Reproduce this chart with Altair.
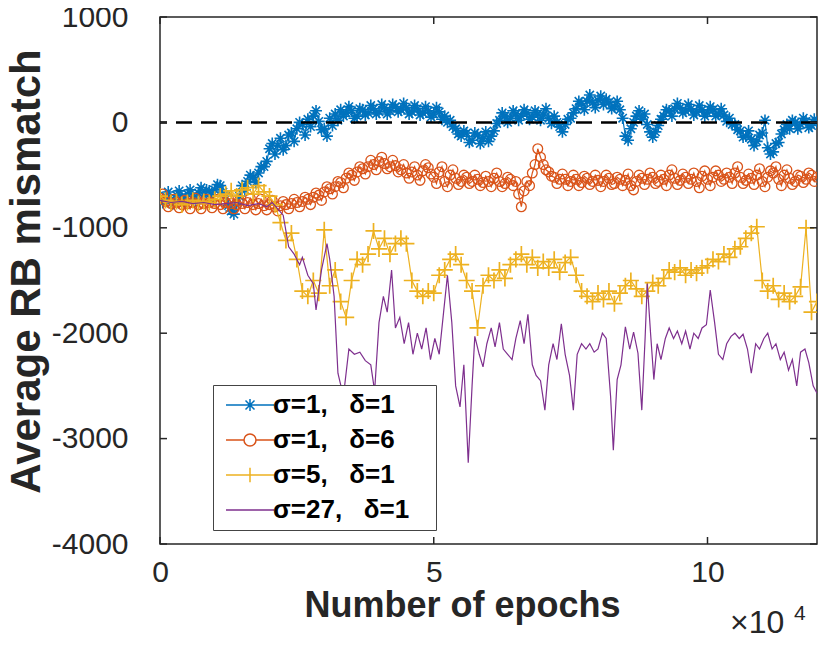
import altair as alt
import pandas as pd

# ---------------- data ----------------
epochs = list(range(0, 120500, 500))

blue = [
    -720, -760, -700, -660, -730, -770, -690, -650, -710, -750,
    -680, -640, -700, -740, -670, -620, -690, -640, -650, -700,
    -640, -590, -600, -660, -700, -790, -840, -870, -780, -700,
    -600, -640, -560, -500, -520, -570, -480, -420, -420, -370,
    -250, -200, -300, -220, -150, -260, -220, -120, -100, -180,
    -60, 0, -20, -120, 30, -40, 60, 110, 10, -70,
    -60, -130, 40, -30, 80, 20, 120, 60, 90, 150,
    110, 40, 60, 130, 120, 70, 90, 160, 130, 80,
    100, 170, 140, 80, 110, 170, 150, 100, 120, 180,
    140, 80, 100, 160, 130, 70, 90, 150, 110, 50,
    80, 140, 100, 30, 60, 0, 20, -40, -60, -110,
    -130, -80, -100, -190, -170, -100, -120, -200, -150, -90,
    -180, -130, -80, -10, 20, 90, 60, 0, 40, 110,
    80, 20, 60, 120, 90, 30, 50, 110, 80, 20,
    70, 130, 40, -10, 60, 0, -40, -90, -20, 30,
    40, 90, 130, 200, 180, 120, 200, 260, 190, 140,
    210, 250, 170, 220, 190, 130, 150, 200, 120, 40,
    -130, -170, -60, 0, 60, 110, 30, 80, -20, -90,
    -140, -90, -30, 30, 60, 120, 110, 60, 130, 180,
    140, 90, 110, 170, 130, 70, 100, 160, 120, 60,
    90, 150, 120, 60, 80, 130, 70, 10, 40, -20,
    -20, -70, -80, -140, -130, -80, -160, -220, -180, -120,
    -100, 20, -240, -300, -280, -200, -190, -110, -70, -20,
    -60, 20, 0, -60, -20, 40, 10, -50, -30, 30,
    0,
]

orange = [
    -720, -680, -750, -800, -770, -730, -760, -810, -780, -740,
    -770, -820, -760, -720, -780, -820, -770, -730, -760, -810,
    -770, -730, -780, -820, -760, -720, -770, -820, -780, -740,
    -770, -820, -760, -720, -780, -830, -770, -730, -790, -830,
    -780, -740, -800, -840, -790, -750, -780, -820, -770, -730,
    -760, -800, -750, -710, -730, -780, -710, -670, -690, -740,
    -660, -610, -630, -680, -610, -560, -570, -620, -530, -480,
    -500, -550, -470, -420, -440, -490, -420, -360, -400, -450,
    -370, -330, -390, -440, -420, -360, -410, -470, -450, -400,
    -480, -530, -470, -420, -500, -550, -460, -400, -430, -490,
    -520, -580, -470, -420, -560, -610, -500, -450, -530, -590,
    -560, -500, -520, -580, -560, -500, -540, -600, -570, -510,
    -560, -610, -530, -480, -560, -610, -580, -520, -540, -600,
    -560, -680, -800, -650, -560, -600, -480, -400, -250, -330,
    -400, -450, -470, -510, -520, -580, -540, -490, -540, -600,
    -560, -500, -540, -600, -570, -510, -530, -590, -560, -500,
    -550, -610, -560, -500, -530, -590, -580, -520, -540, -600,
    -550, -490, -600, -640, -560, -500, -530, -590, -540, -480,
    -520, -580, -560, -500, -540, -600, -500, -450, -530, -590,
    -550, -490, -520, -580, -540, -480, -560, -620, -510, -460,
    -540, -600, -520, -460, -500, -560, -540, -480, -520, -580,
    -480, -420, -520, -580, -550, -490, -530, -590, -500, -440,
    -560, -610, -520, -460, -480, -420, -540, -600, -500, -450,
    -530, -590, -560, -500, -510, -570, -540, -480, -500, -560,
    -520,
]

yellow_epochs = list(range(0, 121000, 1000))
yellow = [
    -700, -740, -760, -750, -780, -760, -740, -770, -750, -760,
    -730, -700, -680, -650, -700, -640, -620, -680, -600, -660,
    -700, -780, -950, -1120, -1050, -1300, -1600, -1650, -1500, -1620,
    -1020, -1550, -1400, -1700, -1850, -1500, -1300, -1350, -1250, -1030,
    -1200, -1100, -1250, -1150, -1100, -1150, -1500, -1600, -1650, -1600,
    -1620, -1450, -1400, -1300, -1250, -1350, -1500, -1600, -1950, -1550,
    -1450, -1500, -1400, -1480, -1350, -1300, -1250, -1350, -1280, -1380,
    -1320, -1380, -1300, -1420, -1330, -1280, -1450, -1600, -1650, -1700,
    -1620, -1680, -1600, -1720, -1620, -1550, -1500, -1580, -1650, -1600,
    -1520, -1550, -1480, -1400, -1420, -1380, -1450, -1400, -1430, -1380,
    -1360, -1300, -1320, -1250, -1280, -1200, -1180, -1100, -1050, -990,
    -1500, -1600, -1550, -1680, -1620, -1700, -1650, -1560, -1000, -1800,
    -1700,
]

purple_epochs = [
    0, 2000, 4000, 6000, 8000, 10000, 12000, 14000, 16000, 18000,
    19500, 20500, 21500, 22500, 23500, 24500, 25500, 26000, 27000, 28000,
    28500, 29500, 30500, 31000, 31800, 32500, 33500, 34500, 35500, 36500,
    37500, 38500, 39200, 40000, 40800, 41500, 42300, 43000, 43800, 44600,
    45400, 46200, 47000, 47800, 48600, 49400, 50200, 51000, 51800, 52500,
    53300, 54000, 54800, 55500, 56300, 57000, 57500, 58300, 59000, 59700,
    60500, 61200, 62000, 62700, 63500, 64300, 65000, 65800, 66500, 67200,
    68000, 68700, 69500, 70300, 71000, 71800, 72500, 73300, 74000, 74800,
    75500, 76200, 77000, 77800, 78500, 79300, 80000, 80800, 81500, 82300,
    82800, 83500, 84200, 85000, 85800, 86500, 87300, 88000, 88600, 89000,
    89600, 90200, 90800, 91500, 92300, 93000, 93800, 94500, 95300, 96000,
    96800, 97500, 98300, 99000, 99800, 100500, 101300, 102000, 102800, 103500,
    104300, 105000, 105800, 106500, 107300, 108000, 108800, 109500, 110300, 111000,
    111800, 112500, 113300, 114000, 114800, 115500, 116300, 117000, 117800, 118500,
    119300, 120000,
]

purple = [
    -740, -760, -750, -770, -760, -780, -770, -760, -790, -770,
    -800, -760, -820, -880, -1180, -1250, -1350, -1280, -1450, -1530,
    -1780, -1400, -1150, -1300, -1650, -2380, -2600, -2150, -2200, -2180,
    -2260, -2300, -2550, -1900, -1650, -1800, -1400, -1950, -1850, -2100,
    -1900, -2200, -2000, -2150, -1950, -2250, -2050, -2200, -1800, -1450,
    -1900, -2500, -2700, -2300, -3230, -2500, -2030, -2200, -2320, -2100,
    -1950, -2130, -1900, -2150, -2200, -2250, -2050, -1880, -2100, -1820,
    -2300, -2400, -2450, -2730, -2300, -2100, -2250, -1910, -2200, -2400,
    -2730, -2200, -2100, -2150, -2100, -2180, -2150, -2000, -2050, -2600,
    -3110, -2440, -2300, -1940, -2150, -1990, -2190, -2730, -2050, -1530,
    -2000, -2440, -2100, -2250, -2050, -1950, -2050, -1980, -2100, -1980,
    -2150, -2000, -2050, -1950, -1920, -1590, -1900, -2200, -2250, -2100,
    -2030, -2000, -2050, -2010, -2150, -2380, -2100, -2150, -2050, -2000,
    -2150, -2100, -2250, -2180, -2350, -2250, -2500, -2180, -2150, -2280,
    -2500, -2570,
]

series_labels = [
    "\u03c3=1,\u00a0\u00a0\u00a0\u03b4=1",
    "\u03c3=1,\u00a0\u00a0\u00a0\u03b4=6",
    "\u03c3=5,\u00a0\u00a0\u00a0\u03b4=1",
    "\u03c3=27,\u00a0\u00a0\u00a0\u03b4=1\u2800",
]
series_keys = ["s1", "s2", "s3", "s4"]
colors = ["#0072BD", "#D95319", "#EDB120", "#7E2F8E"]

y_ticks = [-4000, -3000, -2000, -1000, 0, 1000]
x_ticks = [0, 50000, 100000]
exp_text = ["\u00d710", "4"]

assert len(blue) == len(epochs) == len(orange)
assert len(yellow) == len(yellow_epochs)
assert len(purple) == len(purple_epochs)

rows = []
for key, xs_, vals in (("s1", epochs, blue), ("s2", epochs, orange),
                       ("s3", yellow_epochs, yellow), ("s4", purple_epochs, purple)):
    rows += [{"epoch": e, "value": v, "key": key} for e, v in zip(xs_, vals)]
df = pd.DataFrame(rows)

# ---------------- styling ----------------
W, H = 657, 527
AX = "#262626"
FONT = "Liberation Sans"

xs = alt.Scale(domain=[0, 120000], nice=False, zero=False)
ys = alt.Scale(domain=[-4000, 1000], nice=False, zero=False)

x_axis = alt.Axis(
    values=x_ticks, labelExpr="'' + datum.value / 10000",
    ticks=False, tickSize=0, domain=False, grid=False, labelFlush=False,
    labelFont=FONT, labelFontSize=30, labelColor=AX, labelPadding=13,
    title="Number of epochs", titleFont=FONT, titleFontSize=36,
    titleFontWeight="bold", titleColor=AX, titleX=302, titleY=72,
    titleBaseline="alphabetic", titleAlign="center",
)
y_axis = alt.Axis(
    values=y_ticks, labelExpr="'' + datum.value",
    ticks=False, tickSize=0, domain=False, grid=False,
    labelFont=FONT, labelFontSize=30, labelColor=AX, labelPadding=32,
    title="Average RB mismatch", titleFont=FONT, titleFontSize=42,
    titleFontWeight="bold", titleColor=AX, titleX=-121, titleY=254,
    titleBaseline="alphabetic", titleAlign="center",
)
X = alt.X("epoch:Q", scale=xs, axis=x_axis)
Y = alt.Y("value:Q", scale=ys, axis=y_axis)

asterisk = "M-1,0H1M0,-1V1M-0.7,-0.7L0.7,0.7M-0.7,0.7L0.7,-0.7"
plus = "M-1,0H1M0,-1V1"
marker_shapes = [asterisk, "circle", plus, None]
marker_sizes = [140, 95, 260, 0]
marker_widths = [1.6, 1.3, 1.7, 0]

layers = []
for key, color, shp, sz, sw in zip(series_keys, colors, marker_shapes, marker_sizes, marker_widths):
    sub = alt.Chart(df).transform_filter(alt.datum.key == key)
    layers.append(
        sub.mark_line(color=color, strokeWidth=1.2, clip=True).encode(x=X, y=Y)
    )
    if shp is not None:
        layers.append(
            sub.mark_point(shape=shp, filled=False, color=color, size=sz,
                           strokeWidth=sw, opacity=1, clip=True)
            .encode(x=X, y=Y)
        )

zero = alt.Chart(pd.DataFrame({"value": [0]})).mark_rule(
    color="black", strokeWidth=2.5, strokeDash=[16, 9]
).encode(y=Y)

ydf = pd.DataFrame({"value": y_ticks})
xdf = pd.DataFrame({"epoch": x_ticks})
tick_left = alt.Chart(ydf).mark_rule(color=AX, strokeWidth=1.5).encode(
    y=Y, x=alt.value(0), x2=alt.value(7))
tick_right = alt.Chart(ydf).mark_rule(color=AX, strokeWidth=1.5).encode(
    y=Y, x=alt.value(W - 7), x2=alt.value(W))
tick_bottom = alt.Chart(xdf).mark_rule(color=AX, strokeWidth=1.5).encode(
    x=X, y=alt.value(H - 7), y2=alt.value(H))
tick_top = alt.Chart(xdf).mark_rule(color=AX, strokeWidth=1.5).encode(
    x=X, y=alt.value(0), y2=alt.value(7))

exp_main = alt.Chart(pd.DataFrame({"t": [exp_text[0]]})).mark_text(
    font=FONT, fontSize=32, color=AX, align="left", baseline="alphabetic"
).encode(text="t:N", x=alt.value(570), y=alt.value(616))
exp_sup = alt.Chart(pd.DataFrame({"t": [exp_text[1]]})).mark_text(
    font=FONT, fontSize=21, color=AX, align="left", baseline="alphabetic"
).encode(text="t:N", x=alt.value(634), y=alt.value(603))

legend_shapes = [
    "M-4,0H4M0,-1V1M-0.75,-0.75L0.75,0.75M-0.75,0.75L0.75,-0.75",
    "M-4,0H-1M1,0H4M1,0A1,1,0,1,1,-1,0A1,1,0,1,1,1,0",
    "M-4,0H4M0,-1.2V1.2",
    "M-4,0H4",
]
leg = alt.Legend(
    orient="none", legendX=53, legendY=368, title=None,
    fillColor="white", strokeColor="#444444", padding=7,
    symbolOffset=17, labelOffset=10, rowPadding=9,
    labelFont=FONT, labelFontSize=26, labelFontWeight="bold",
    labelColor="black", labelLimit=400,
    symbolSize=144, symbolStrokeWidth=1.5,
)
legend_layer = alt.Chart(pd.DataFrame({"series": series_labels})).transform_filter(
    "false"
).mark_point(filled=False, opacity=1, strokeWidth=1.5).encode(
    color=alt.Color("series:N", scale=alt.Scale(domain=series_labels, range=colors), legend=leg),
    shape=alt.Shape("series:N", scale=alt.Scale(domain=series_labels, range=legend_shapes), legend=leg),
)

chart = alt.layer(
    *layers, zero, tick_left, tick_right, tick_bottom, tick_top,
    exp_main, exp_sup, legend_layer,
).properties(
    width=W, height=H,
    padding={"left": 152, "top": 9, "right": 5, "bottom": 92},
    autosize=alt.AutoSizeParams(type="none"),
    background="white",
).configure_view(stroke=AX, strokeWidth=1.5)

chart.save("out.html", embed_options={"renderer": "svg", "actions": False})
